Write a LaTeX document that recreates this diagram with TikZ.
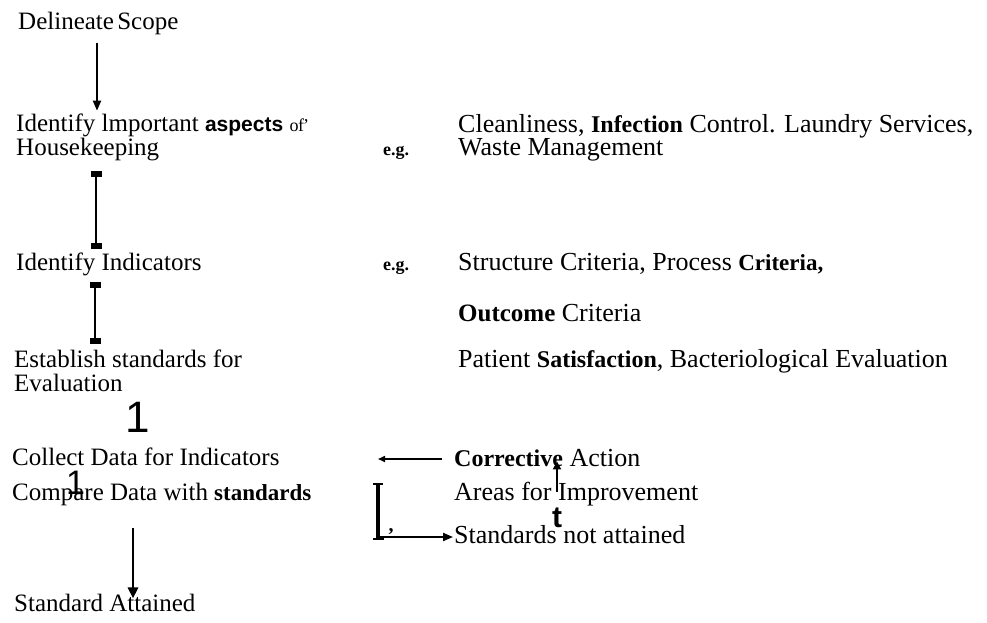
\documentclass[tikz,border=0pt]{standalone}
\usepackage{fontspec}
\setmainfont{Liberation Serif}
\newfontfamily\sansf{Liberation Sans}
\newcommand\ocrword{\bfseries\fontsize{24}{24}\selectfont}
\usetikzlibrary{arrows.meta}
\begin{document}
\begin{tikzpicture}[x=1pt,y=-1pt,
  lbl/.style={anchor=base west, inner sep=0pt, align=left,
    font=\fontsize{25}{23.5}\selectfont},
  rlbl/.style={lbl, font=\fontsize{26}{23}\selectfont},
  arr/.style={-{Triangle[length=10pt,width=8pt]}, line width=2pt},
  thin/.style={line width=1.1pt},
  tickmark/.style={fill=black, minimum width=11pt, minimum height=5.5pt, inner sep=0pt},
  eg/.style={anchor=base west, inner sep=0pt, font=\fontsize{18}{18}\selectfont\bfseries},
  digit/.style={anchor=base west, inner sep=0pt, font=\sansf\fontsize{44}{44}\selectfont}]
\useasboundingbox (0,0) rectangle (987,622);

% left column: the steps (multi-line nodes sit on the baseline of their last line)
\node[lbl] (scope) at (18,29) {Delineate\hspace{-3pt} Scope};
\node[lbl] (aspects) at (16,155) {Identify lmportant {\sansf\bfseries\fontsize{21}{21}\selectfont aspects} {\fontsize{18}{18}\selectfont o\hspace{-0.5pt}f\hspace{-1pt}'}\\Housekeeping};
\node[lbl] (indic) at (16,270) {Identify Indicators};
\node[lbl] (estab) at (14,391) {Establish standards for\\Evaluation};
\node[lbl] (collect) at (12,465) {Collect Data for Indicators};
\node[lbl] (compare) at (12,500) {Compare Data with {\ocrword\fontsize{23}{23}\selectfont standards}};
\node[lbl] (attained) at (14,611) {Standard Attained};

% stray glyphs between the steps
\node[digit] (one1) at (125,432) {1};
\node[digit, font=\sansf\fontsize{34}{34}\selectfont] (one2) at (66,494) {1};

% examples column
\node[eg] (eg1) at (383,155) {e.g.};
\node[eg] (eg2) at (383,270) {e.g.};
\node[rlbl] (ex1) at (458,155) {Cleanliness, {\ocrword Infection} Control. Laundry Services,\\Waste Management};
\node[rlbl] (ex2) at (458,270) {Structure Criteria, Process {\ocrword\fontsize{23}{23}\selectfont Criteria,}};
\node[rlbl] (ex3) at (458,321) {{\ocrword\fontsize{25}{25}\selectfont Outcome} Criteria};
\node[rlbl] (ex4) at (458,367) {Patient {\ocrword Satisfaction}, Bacteriological Evaluation};

% feedback loop
\node[rlbl] (corr) at (454,466) {{\ocrword Corrective} Action};
\node[rlbl] (areas) at (454,500) {Areas for Improvement};
\node[rlbl] (notatt) at (454,543) {Standards not attained};
\node[anchor=base, inner sep=0pt, font=\sansf\bfseries\fontsize{30}{30}\selectfont] (tee) at (557,527) {t};

% connectors
\coordinate (c1) at (97,0);
\coordinate (c3) at (133,0);
\draw[arr] ([yshift=-8pt]scope.south -| c1) -- ([yshift=3pt]aspects.north -| c1);

\node[tickmark] (t1) at (96,174) {};
\node[tickmark] (t2) at (96,246) {};
\draw[thin] (t1.south) -- (t2.north);
\node[tickmark] (t3) at (95,285) {};
\node[tickmark] (t4) at (95,341) {};
\draw[thin] (t3.south) -- (t4.north);

\draw[arr, line width=2.6pt, -{Triangle[length=11pt,width=10pt]}] ([yshift=-22pt]compare.south -| c3) -- ([yshift=-5pt]attained.north -| c3);

% bracket on the left of the loop
\coordinate (bt) at (378,483);
\coordinate (bb) at (378,540);
\draw[line width=3.4pt] (bt) -- (bb);
\draw[line width=2pt] ([xshift=-5pt,yshift=-1pt]bt) -- ([xshift=5pt,yshift=-1pt]bt);
\draw[line width=2pt] ([xshift=-5pt,yshift=1pt]bb) -- ([xshift=6pt,yshift=1pt]bb);
\node[anchor=base, inner sep=0pt, font=\bfseries\fontsize{20}{20}\selectfont] (comma) at (391,531) {,};

\coordinate (ct) at (0,459);
\coordinate (nt) at (0,537);
\draw[line width=1.6pt, -{Triangle[length=7pt,width=6pt]}] ([xshift=-12pt]corr.west |- ct) -- (bt |- ct);
\draw[arr] (bb |- nt) -- ([xshift=-1pt]notatt.west |- nt);
\draw[line width=2.2pt, -{Triangle[length=8pt,width=8pt]}] ([yshift=-10pt]areas.north -| tee) -- ([yshift=5pt]corr.south -| tee);
\end{tikzpicture}
\end{document}
